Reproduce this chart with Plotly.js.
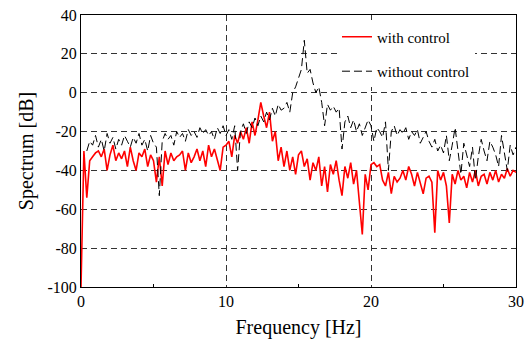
<!DOCTYPE html>
<html>
<head>
<meta charset="utf-8">
<script src="https://cdn.plot.ly/plotly-3.0.1.min.js"></script>
<style>html,body{margin:0;padding:0;background:#fff;}#chart{width:531px;height:342px;}</style>
</head>
<body>
<div id="chart"></div>
<script>
// Frequency grid [Hz]
const freq = [
 0,0.2,0.4,0.6,0.8, 1,1.2,1.4,1.6,1.8, 2,2.2,2.4,2.6,2.8, 3,3.2,3.4,3.6,3.8,
 4,4.2,4.4,4.6,4.8, 5,5.2,5.4,5.6,5.8, 6,6.2,6.4,6.6,6.8, 7,7.2,7.4,7.6,7.8,
 8,8.2,8.4,8.6,8.8, 9,9.2,9.4,9.6,9.8, 10,10.2,10.4,10.6,10.8, 11,11.2,11.4,11.6,11.8,
 12,12.2,12.4,12.6,12.8, 13,13.2,13.4,13.6,13.8, 14,14.2,14.4,14.6,14.8, 15,15.2,15.4,15.6,15.8,
 16,16.2,16.4,16.6,16.8, 17,17.2,17.4,17.6,17.8, 18,18.2,18.4,18.6,18.8, 19,19.2,19.4,19.6,19.8,
 20,20.2,20.4,20.6,20.8, 21,21.2,21.4,21.6,21.8, 22,22.2,22.4,22.6,22.8, 23,23.2,23.4,23.6,23.8,
 24,24.2,24.4,24.6,24.8, 25,25.2,25.4,25.6,25.8, 26,26.2,26.4,26.6,26.8, 27,27.2,27.4,27.6,27.8,
 28,28.2,28.4,28.6,28.8, 29,29.2,29.4,29.6,29.8, 30
];
// Spectrum with control [dB]
const withControl = [
 -100,-30,-54,-35,-33, -31,-30,-33,-29,-40, -32,-27,-35,-31,-34, -30,-38,-28,-35,-40,
 -31,-33,-29,-38,-32, -35,-46,-33,-48,-30, -37,-31,-35,-33,-32, -30,-40,-31,-36,-33,
 -29,-35,-30,-38,-27, -33,-29,-34,-40,-28, -27,-25,-33,-22,-26, -20,-24,-18,-26,-15,
 -22,-14,-5,-12,-18, -10,-25,-20,-35,-28, -38,-30,-40,-33,-42, -32,-30,-38,-34,-45,
 -36,-40,-33,-48,-38, -51,-37,-42,-35,-45, -53,-38,-44,-36,-47, -40,-55,-73,-42,-50,
 -37,-36,-38,-37,-45, -48,-41,-52,-43,-46, -44,-40,-45,-38,-42, -48,-41,-47,-52,-44,
 -43,-46,-72,-40,-45, -41,-48,-67,-42,-47, -40,-45,-43,-49,-41, -46,-40,-48,-43,-42,
 -47,-41,-45,-40,-46, -42,-44,-39,-43,-40, -41
];
// Spectrum without control [dB]
const withoutControl = [
 null,null,-30,-25,-27, -22,-28,-24,-30,-21, -26,-23,-29,-24,-27, -22,-25,-28,-23,-26,
 -21,-27,-24,-30,-22, -26,-28,-53,-25,-21, -24,-22,-27,-20,-23, -21,-25,-19,-22,-20,
 -23,-18,-21,-19,-22, -20,-24,-18,-21,-17, -22,-19,-24,-17,-40, -20,-16,-21,-15,-18,
 -13,-17,-12,-15,-10, -14,-8,-12,-6,-9, -8,-5,-10,0,3, 7,12,27,10,12,
 5,0,3,-5,-17, -6,-9,-7,-10,-8, -29,-15,-12,-18,-14, -20,-16,-22,-18,-14,
 -17,-25,-18,-20,-23, -15,-40,-20,-17,-22, -19,-21,-18,-24,-20, -22,-19,-26,-23,-20,
 -25,-28,-24,-30,-27, -31,-22,-35,-27,-18, -30,-42,-26,-32,-38, -28,-45,-33,-24,-30,
 -35,-25,-28,-32,-38, -22,-30,-40,-27,-32, -28
];
const xTicks = [0,10,20,30];
const yTicks = [-100,-80,-60,-40,-20,0,20,40];

const font = 'Liberation Serif, Times New Roman, serif';
const data = [
 {x: freq, y: withControl, type:'scatter', mode:'lines', name:'with control',
  line:{color:'#ff0000', width:1.6}, legendgroup:'a'},
 {x: freq, y: withoutControl, type:'scatter', mode:'lines', name:'without control',
  line:{color:'#000000', width:1, dash:'8px,4px'}, legendgroup:'b', connectgaps:false}
];
const layout = {
 width:531, height:342,
 margin:{l:81, r:15, t:15, b:55},
 paper_bgcolor:'#fff', plot_bgcolor:'#fff',
 font:{family:font, size:15, color:'#000'},
 showlegend:true,
 legend:{x:0.5885, y:0.98, xanchor:'left', yanchor:'top', bgcolor:'#fff', borderwidth:0,
   font:{family:font, size:15}, tracegroupgap:12, traceorder:'grouped'},
 xaxis:{range:[0,30], tickvals:xTicks, ticktext:xTicks.map(String), showgrid:true,
   gridcolor:'#333', griddash:'6px,4px', gridwidth:1, zeroline:false,
   showline:true, linecolor:'#000', linewidth:1, mirror:true, ticks:'',
   minor:{tickvals:[5,15,25], ticks:'inside', ticklen:3, tickcolor:'#000', showgrid:false},
   tickfont:{family:font, size:16},
   title:{text:'Frequency [Hz]', font:{family:font, size:20}, standoff:10}},
 yaxis:{range:[-100,40], tickvals:yTicks, ticktext:yTicks.map(String), showgrid:true,
   gridcolor:'#333', griddash:'6px,4px', gridwidth:1, zeroline:false,
   showline:true, linecolor:'#000', linewidth:1, mirror:true, ticks:'',
   tickfont:{family:font, size:16},
   title:{text:'Spectrum [dB]', font:{family:font, size:20}, standoff:8}}
};
Plotly.newPlot('chart', data, layout, {staticPlot:true});
</script>
</body>
</html>
